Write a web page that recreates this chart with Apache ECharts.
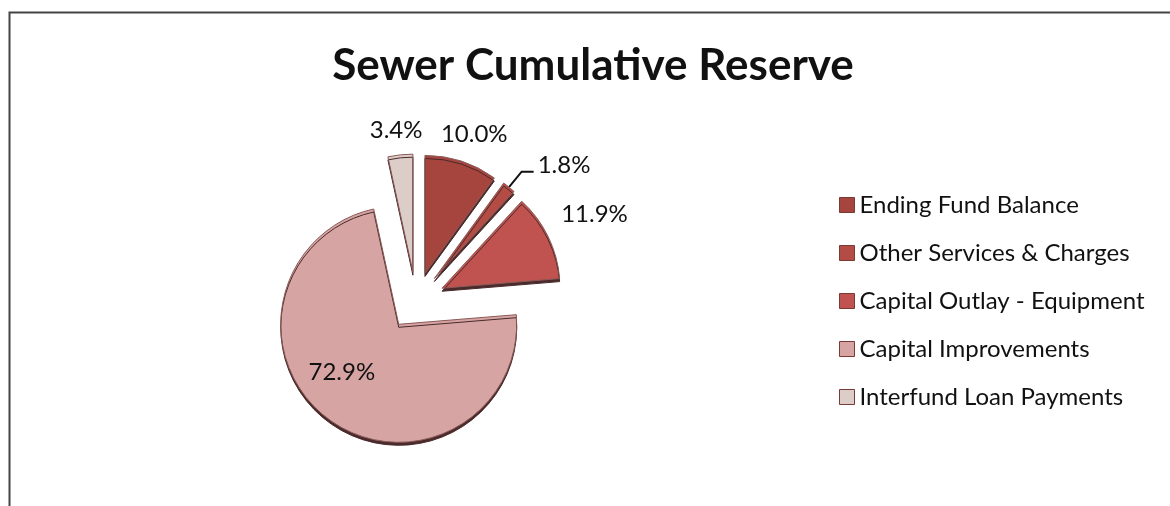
<!DOCTYPE html>
<html>
<head>
<meta charset="utf-8">
<script src="https://cdn.jsdelivr.net/npm/echarts@6/dist/echarts.min.js"></script>
<style>
html,body{margin:0;padding:0;background:#fff;}
#chart{width:1170px;height:506px;}
</style>
</head>
<body>
<div id="chart"></div>
<script>
const titleText = 'Sewer Cumulative Reserve';
const categories = ['Ending Fund Balance', 'Other Services & Charges', 'Capital Outlay - Equipment', 'Capital Improvements', 'Interfund Loan Payments'];
const values = [10.0, 1.8, 11.9, 72.9, 3.4];
const colors = ['#a6443e', '#b44c46', '#c0534f', '#d6a5a3', '#ddcdc9'];

// label nudges (style only), per slice index
const labelNudge = [[-41, -19], [0, -6], [-12, -19], [-20, -2], [41, -17]];

const chart = echarts.init(document.getElementById('chart'), null, {renderer: 'canvas'});
const FONT = 'Lato, "Open Sans", sans-serif';

const data = categories.map((c, i) => ({
  name: c,
  value: values[i],
  selected: true,
  itemStyle: {color: colors[i]},
  label: i === 3 ? {position: 'inside'} : {position: 'outside'},
  labelLine: i === 1 ? {show: true, length: 20, length2: 12} : {show: false, length: 8, length2: 14}
}));

chart.setOption({
  animation: false,
  backgroundColor: '#ffffff',
  title: {
    text: titleText,
    left: 588, top: 39, textAlign: 'center',
    textStyle: {fontFamily: FONT, fontWeight: 'bold', fontSize: 44, color: '#111'}
  },
  legend: {
    orient: 'vertical',
    left: 834, top: 188,
    itemWidth: 15, itemHeight: 15, itemGap: 24,
    icon: 'rect',
    selectedMode: false,
    textStyle: {fontFamily: FONT, fontSize: 24, color: '#111', padding: [0, 0, 0, 0]},
    data: categories.map((c, i) => ({name: c, itemStyle: {borderColor: '#7a3a36', borderWidth: 1}}))
  },
  graphic: [{
    type: 'rect', left: 7, top: 10, z: -1,
    shape: {width: 1180, height: 495},
    style: {fill: 'none', stroke: '#444', lineWidth: 2}
  }],
  series: [{
    type: 'pie',
    center: [416, 301],
    radius: [0, 118],
    startAngle: 90,
    clockwise: true,
    selectedMode: 'multiple',
    selectedOffset: 29,
    avoidLabelOverlap: false,
    itemStyle: {
      borderColor: '#8a5a58', borderWidth: 1,
      shadowColor: '#4a2a2a', shadowOffsetY: 3, shadowBlur: 0
    },
    label: {
      formatter: p => p.value.toFixed(1) + '%',
      fontFamily: FONT, fontSize: 24, color: '#111', distanceToLabelLine: 4
    },
    labelLine: {lineStyle: {color: '#111', width: 2}},
    labelLayout: p => ({dx: labelNudge[p.dataIndex][0], dy: labelNudge[p.dataIndex][1]}),
    emphasis: {disabled: true},
    data: data
  }]
});
</script>
</body>
</html>
